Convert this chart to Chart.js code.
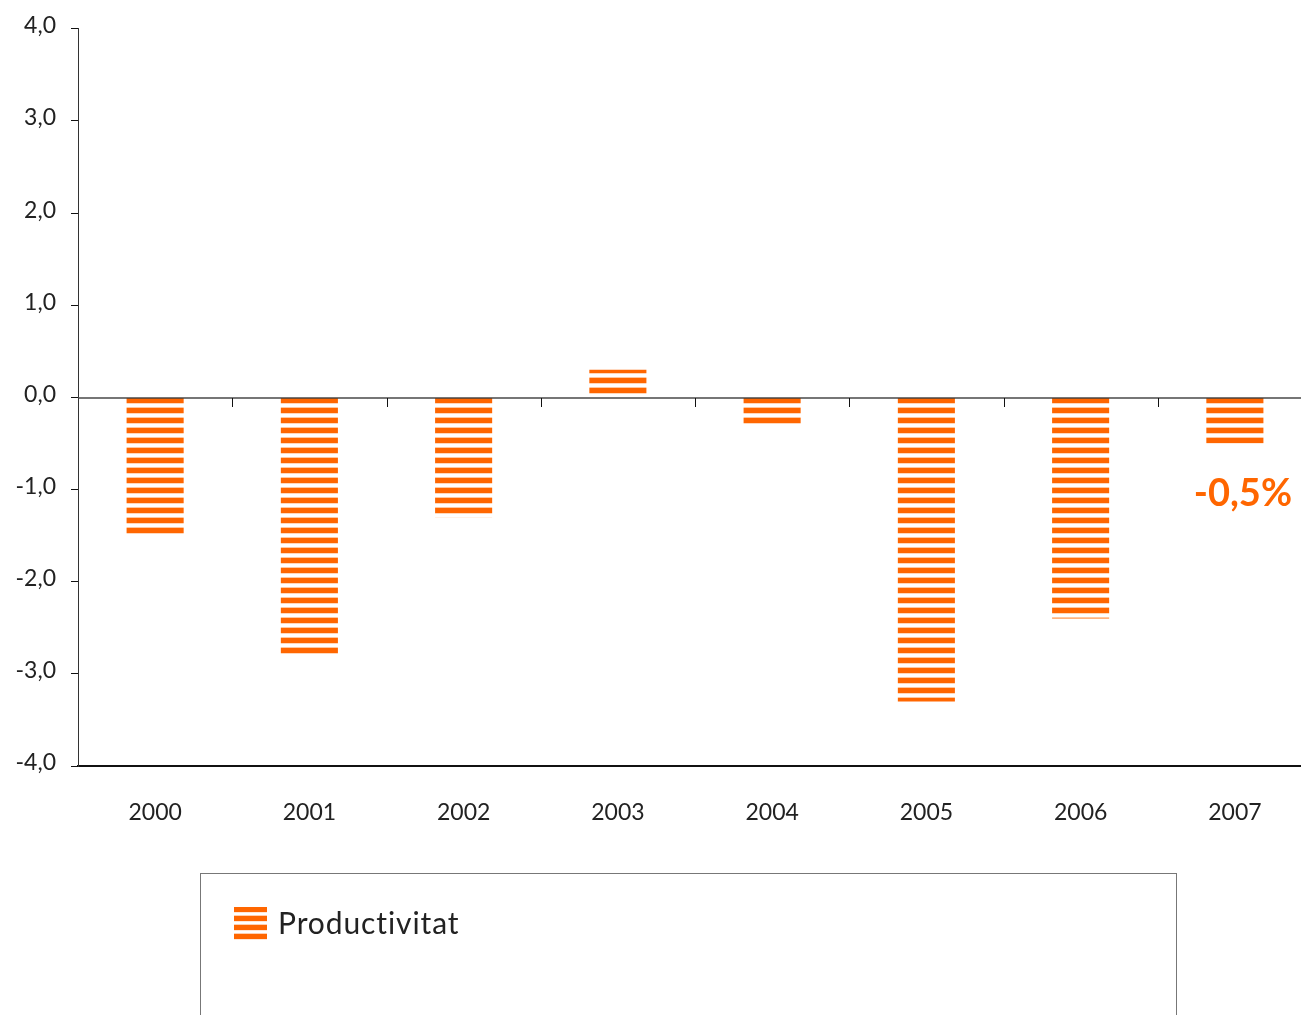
<!DOCTYPE html>
<html>
<head>
<meta charset="utf-8">
<script src="https://cdn.jsdelivr.net/npm/chart.js@4"></script>
<style>
  body { margin: 0; background: #fff; }
  #wrap { position: relative; width: 1301px; height: 1015px; overflow: hidden; }
  #legendBox {
    position: absolute; left: 200px; top: 873px; width: 977px; height: 160px;
    border: 1px solid #777; box-sizing: border-box;
  }
  #legendBox .sw {
    position: absolute; left: 33px; top: 33px; width: 33px; height: 34px;
    background: repeating-linear-gradient(to bottom, #ff6600 0px, #ff6600 5px, #ffd0b0 5px, #fff 6px, #fff 8px, #ffd0b0 8px, #ffd0b0 9px);
  }
  #legendBox .lbl {
    position: absolute; left: 77px; top: 30px; font-family: Lato, sans-serif;
    font-size: 30px; color: #222; letter-spacing: 0.9px;
  }
</style>
</head>
<body>
<div id="wrap">
  <canvas id="myChart" width="1312" height="1015"></canvas>
  <div id="legendBox"><div class="sw"></div><div class="lbl">Productivitat</div></div>
</div>
<script>
// Chart values
var years = ["2000", "2001", "2002", "2003", "2004", "2005", "2006", "2007"];
var productivitat = [-1.5, -2.8, -1.3, 0.3, -0.3, -3.3, -2.4, -0.5];
var yTicks = [4, 3, 2, 1, 0, -1, -2, -3, -4];
var noteText = "-0,5%";

// Striped fill for the bars (stripe phase lines up with the zero line)
function stripes() {
  var c = document.createElement("canvas");
  c.width = 10; c.height = 10;
  var g = c.getContext("2d");
  g.fillStyle = "#fff"; g.fillRect(0, 0, 10, 10);
  g.fillStyle = "#ffc8a0"; g.fillRect(0, 7, 10, 1);
  g.fillStyle = "#ff6600"; g.fillRect(0, 8, 10, 2); g.fillRect(0, 0, 10, 3);
  g.fillStyle = "#ffd8bc"; g.fillRect(0, 3, 10, 1);
  return g.createPattern(c, "repeat");
}

// Zero line, its ticks and the note
var extras = {
  id: "extras",
  afterDatasetsDraw: function (chart) {
    var ctx = chart.ctx, x = chart.scales.x, y = chart.scales.y, a = chart.chartArea;
    var y0 = Math.round(y.getPixelForValue(0)) + 1;
    ctx.save();
    ctx.strokeStyle = "rgba(60,60,60,0.7)";
    ctx.lineWidth = 2;
    ctx.beginPath(); ctx.moveTo(a.left, y0); ctx.lineTo(a.right, y0); ctx.stroke();
    ctx.strokeStyle = "#111";
    ctx.lineWidth = 1;
    for (var i = 0; i < years.length - 1; i++) {
      var bx = Math.round((x.getPixelForValue(i) + x.getPixelForValue(i + 1)) / 2) + 0.5;
      ctx.beginPath(); ctx.moveTo(bx, y0); ctx.lineTo(bx, y0 + 9); ctx.stroke();
    }
    ctx.fillStyle = "#ff6600";
    ctx.font = "bold 38px Lato, sans-serif";
    ctx.textAlign = "center";
    ctx.textBaseline = "middle";
    var last = years.length - 1;
    ctx.fillText(noteText, x.getPixelForValue(last) + 8, y.getPixelForValue(productivitat[last]) + 50);
    ctx.restore();
  }
};

var ctx = document.getElementById("myChart").getContext("2d");
var myChart = new Chart(ctx, {
  type: "bar",
  data: {
    labels: years,
    datasets: [{
      label: "Productivitat",
      data: productivitat,
      backgroundColor: stripes(),
      borderWidth: 0,
      barPercentage: 0.37,
      categoryPercentage: 1
    }]
  },
  options: {
    responsive: false,
    animation: false,
    layout: { padding: { top: 28, right: 0, left: 0, bottom: 0 } },
    plugins: { legend: { display: false }, tooltip: { enabled: false } },
    scales: {
      x: {
        grid: { display: false },
        border: { display: true, color: "#111", width: 2 },
        ticks: { color: "#222", font: { family: "Lato, sans-serif", size: 23 }, padding: 25, maxRotation: 0 },
        afterFit: function (s) { s.height = 249; }
      },
      y: {
        min: -4, max: 4,
        afterBuildTicks: function (s) { s.ticks = yTicks.map(function (v) { return { value: v }; }); },
        grid: { drawOnChartArea: false, drawTicks: true, tickLength: 7, color: "#111" },
        border: { display: true, color: "#333", width: 1 },
        ticks: {
          color: "#222", padding: 15, labelOffset: -3,
          font: { family: "Lato, sans-serif", size: 23 },
          callback: function (v) { return v.toFixed(1).replace(".", ","); }
        },
        afterFit: function (s) { s.width = 78; }
      }
    }
  },
  plugins: [extras]
});
</script>
</body>
</html>
